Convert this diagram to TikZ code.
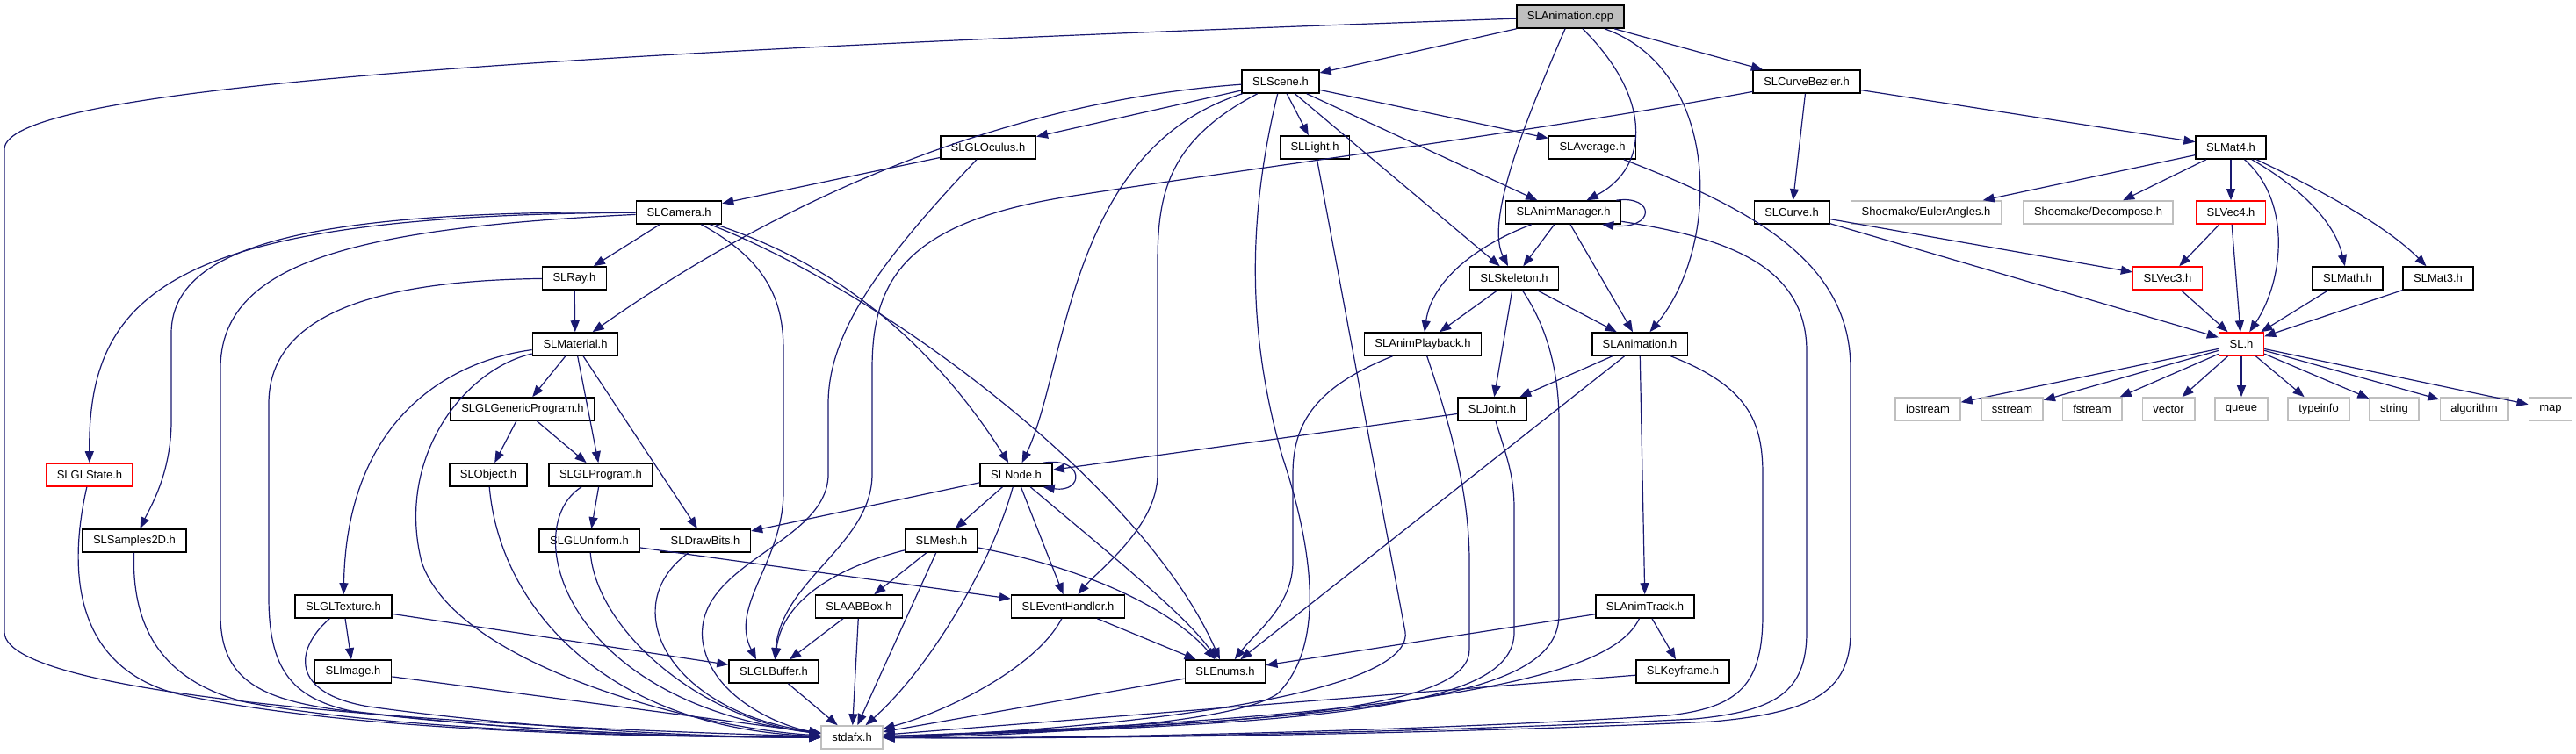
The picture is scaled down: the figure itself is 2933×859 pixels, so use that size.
\documentclass[tikz,border=0pt]{standalone}
\usepackage{fontspec}
\setmainfont{Liberation Sans}
\usetikzlibrary{arrows.meta}
\definecolor{azulnoche}{HTML}{191970}
\definecolor{gris}{HTML}{BFBFBF}

\begin{document}
\begin{tikzpicture}[x=1pt,y=-1pt,
    hdr/.style={draw=black,line width=1.6pt,fill=white,minimum height=26pt,
        inner xsep=12pt,inner ysep=0pt,font=\fontsize{13}{15}\selectfont},
    rojo/.style={hdr,draw=red},
    sis/.style={hdr,draw=gris},
    dep/.style={draw=azulnoche,line width=1.2pt,-{Triangle[length=13pt,width=10pt]}}]
    \useasboundingbox (0,0) rectangle (2933,859);

    % Nodos
    \node[hdr,fill=gris] (cpp) at (1788,19) {SLAnimation.cpp};
    \node[hdr] (scene) at (1458,93) {SLScene.h};
    \node[hdr] (bezier) at (2057,93) {SLCurveBezier.h};
    \node[hdr] (oculus) at (1125,168) {SLGLOculus.h};
    \node[hdr] (light) at (1497,168) {SLLight.h};
    \node[hdr] (average) at (1813,168) {SLAverage.h};
    \node[hdr] (mat4) at (2540,168) {SLMat4.h};
    \node[hdr] (camera) at (773,242) {SLCamera.h};
    \node[hdr] (animmgr) at (1780,242) {SLAnimManager.h};
    \node[hdr] (curve) at (2040,242) {SLCurve.h};
    \node[sis] (euler) at (2193,242) {Shoemake/EulerAngles.h};
    \node[sis] (decomp) at (2389,242) {Shoemake/Decompose.h};
    \node[rojo] (vec4) at (2540,242) {SLVec4.h};
    \node[hdr] (ray) at (654,317) {SLRay.h};
    \node[hdr] (skeleton) at (1724,317) {SLSkeleton.h};
    \node[rojo] (vec3) at (2468,317) {SLVec3.h};
    \node[hdr] (math) at (2673,317) {SLMath.h};
    \node[hdr] (mat3) at (2776,317) {SLMat3.h};
    \node[hdr] (material) at (655,392) {SLMaterial.h};
    \node[hdr] (playback) at (1620,392) {SLAnimPlayback.h};
    \node[hdr] (animation) at (1867,392) {SLAnimation.h};
    \node[rojo] (slh) at (2552,392) {SL.h};
    \node[hdr] (genprog) at (595,466) {SLGLGenericProgram.h};
    \node[hdr] (joint) at (1699,466) {SLJoint.h};
    \node[rojo] (glstate) at (102,541) {SLGLState.h};
    \node[hdr] (object) at (556,541) {SLObject.h};
    \node[hdr] (program) at (684,541) {SLGLProgram.h};
    \node[hdr] (node) at (1157,541) {SLNode.h};
    \node[hdr] (samples) at (153,616) {SLSamples2D.h};
    \node[hdr] (uniform) at (671,616) {SLGLUniform.h};
    \node[hdr] (drawbits) at (803,616) {SLDrawBits.h};
    \node[hdr] (mesh) at (1072,616) {SLMesh.h};
    \node[hdr] (texture) at (391,691) {SLGLTexture.h};
    \node[hdr] (aabb) at (978,691) {SLAABBox.h};
    \node[hdr] (event) at (1216,691) {SLEventHandler.h};
    \node[hdr] (track) at (1873,691) {SLAnimTrack.h};
    \node[hdr] (image) at (402,765) {SLImage.h};
    \node[hdr] (buffer) at (881,765) {SLGLBuffer.h};
    \node[hdr] (enums) at (1395,765) {SLEnums.h};
    \node[hdr] (keyframe) at (1916,765) {SLKeyframe.h};
    \node[sis] (stdafx) at (970,840) {stdafx.h};

    % Cabeceras del sistema
    \foreach \n/\x in {iostream/2195,sstream/2291,fstream/2382,vector/2469,queue/2552,
        typeinfo/2640,string/2726,algorithm/2817,map/2904}
    {
        \node[sis] (\n) at (\x,466) {\n};
        \draw[dep] (slh) -- (\n);
    }

    % Aristas rectas
    \foreach \a/\b in {cpp/scene,cpp/bezier,scene/oculus,scene/light,scene/average,
        scene/animmgr,scene/skeleton,oculus/camera,bezier/curve,bezier/mat4,
        mat4/euler,mat4/decomp,mat4/vec4,curve/vec3,curve/slh,vec4/vec3,vec4/slh,
        vec3/slh,math/slh,mat3/slh,camera/ray,ray/material,animmgr/skeleton,
        animmgr/animation,skeleton/playback,skeleton/animation,skeleton/joint,
        animation/joint,animation/enums,animation/track,material/genprog,
        material/program,material/drawbits,genprog/object,genprog/program,
        program/uniform,joint/node,node/mesh,node/event,node/drawbits,uniform/event,
        mesh/aabb,mesh/stdafx,texture/image,texture/buffer,aabb/buffer,aabb/stdafx,
        event/enums,enums/stdafx,track/enums,track/keyframe,keyframe/stdafx,
        image/stdafx,buffer/stdafx}
        \draw[dep] (\a) -- (\b);

    % Aristas curvas desde arriba
    \draw[dep] (cpp) .. controls (600,60) and (5,100) .. (5,170) -- (5,720)
        .. controls (5,800) and (600,830) .. (stdafx);
    \draw[dep] (cpp) .. controls (1740,130) and (1690,250) .. (skeleton);
    \draw[dep] (cpp) .. controls (1880,110) and (1880,190) .. (animmgr);
    \draw[dep] (cpp) .. controls (1960,80) and (1960,280) .. (animation);
    \draw[dep] (scene) .. controls (1150,115) and (900,220) .. (material);
    \draw[dep] (scene) .. controls (1215,170) and (1215,420) .. (node);
    \draw[dep] (scene) .. controls (1330,160) and (1318,220) .. (1318,300) -- (1318,540)
        .. controls (1318,600) and (1250,650) .. (event);
    \draw[dep] (scene) .. controls (1420,250) and (1420,380) .. (1460,520)
        .. controls (1500,640) and (1505,740) .. (1455,790)
        .. controls (1400,830) and (1100,840) .. (stdafx);
    \draw[dep] (light) -- (1600,720) .. controls (1610,800) and (1200,835) .. (stdafx);
    \draw[dep] (average) .. controls (2000,240) and (2107,300) .. (2107,420) -- (2107,720)
        .. controls (2107,790) and (2060,812) .. (1950,822)
        .. controls (1600,838) and (1200,842) .. (stdafx);
    \draw[dep] (animmgr) .. controls (1960,270) and (2057,300) .. (2057,400) -- (2057,720)
        .. controls (2057,790) and (2020,810) .. (1930,819)
        .. controls (1600,836) and (1200,842) .. (stdafx);
    \draw[dep] ([xshift=-6pt]animmgr.north east) .. controls (1885,222) and (1885,262)
        .. ([xshift=-22pt]animmgr.south east);
    \draw[dep] (animmgr) .. controls (1680,280) and (1630,320) .. (playback);
    \draw[dep] (animation) .. controls (1990,440) and (2007,480) .. (2007,540) -- (2007,700)
        .. controls (2007,780) and (1980,806) .. (1900,815)
        .. controls (1600,834) and (1200,842) .. (stdafx);
    \draw[dep] (skeleton) .. controls (1760,370) and (1775,420) .. (1775,480) -- (1775,700)
        .. controls (1775,790) and (1600,820) .. (stdafx);
    \draw[dep] (playback) .. controls (1500,440) and (1472,480) .. (1472,540) -- (1472,640)
        .. controls (1472,690) and (1430,720) .. (enums);
    \draw[dep] (playback) .. controls (1650,480) and (1673,560) .. (1673,640) -- (1673,740)
        .. controls (1673,800) and (1500,825) .. (stdafx);
    \draw[dep] (joint) .. controls (1715,520) and (1724,540) .. (1724,580) -- (1724,720)
        .. controls (1724,800) and (1550,825) .. (stdafx);
    \draw[dep] (track) .. controls (1840,760) and (1700,815) .. (stdafx);
    \draw[dep] (bezier) .. controls (1750,150) and (1400,195) .. (1210,225)
        .. controls (1030,255) and (993,320) .. (993,420) -- (993,540)
        .. controls (993,620) and (890,660) .. (buffer);
    \draw[dep] (mat4) .. controls (2610,230) and (2600,320) .. (slh);
    \draw[dep] (mat4) .. controls (2630,220) and (2660,260) .. (math);
    \draw[dep] (mat4) .. controls (2650,220) and (2720,260) .. (mat3);

    % Aristas curvas del lado izquierdo
    \draw[dep] (oculus) .. controls (1000,300) and (943,380) .. (943,460) -- (943,540)
        .. controls (943,620) and (790,640) .. (800,730) .. controls (810,800) and (900,830) .. (stdafx);
    \draw[dep] (camera) .. controls (980,310) and (1080,420) .. (node);
    \draw[dep] (camera) .. controls (1000,330) and (1300,550) .. (enums);
    \draw[dep] (camera) .. controls (880,300) and (892,350) .. (892,400) -- (892,560)
        .. controls (892,640) and (830,690) .. ([xshift=-20pt]buffer.north);
    \draw[dep] (camera) .. controls (400,260) and (251,300) .. (251,420) -- (251,700)
        .. controls (251,770) and (290,795) .. (380,808)
        .. controls (550,830) and (750,840) .. (stdafx);
    \draw[dep] (camera) .. controls (200,245) and (100,330) .. (glstate);
    \draw[dep] (camera) .. controls (350,240) and (195,280) .. (195,380) -- (195,480)
        .. controls (195,540) and (170,580) .. (samples);
    \draw[dep] (ray) .. controls (400,320) and (306,370) .. (306,460) -- (306,680)
        .. controls (306,760) and (330,795) .. (400,810)
        .. controls (560,830) and (750,840) .. (stdafx);
    \draw[dep] (material) .. controls (520,410) and (395,470) .. (texture);
    \draw[dep] (material) .. controls (530,420) and (450,520) .. (480,640)
        .. controls (520,760) and (800,830) .. (stdafx);
    \draw[dep] (object) .. controls (570,700) and (700,830) .. (stdafx);
    \draw[dep] (program) .. controls (590,600) and (640,800) .. (stdafx);
    \draw[dep] (uniform) .. controls (680,720) and (800,820) .. (stdafx);
    \draw[dep] (drawbits) .. controls (700,690) and (760,810) .. (stdafx);
    \draw[dep] (glstate) .. controls (75,660) and (90,760) .. (200,790)
        .. controls (400,835) and (750,840) .. (stdafx);
    \draw[dep] (samples) .. controls (150,710) and (180,775) .. (280,800)
        .. controls (450,832) and (750,840) .. (stdafx);
    \draw[dep] (texture) .. controls (335,740) and (330,790) .. (420,805)
        .. controls (600,830) and (800,840) .. (stdafx);

    % Aristas curvas del centro
    \draw[dep] ([xshift=-11pt]node.north east) .. controls (1235,520) and (1235,562)
        .. ([xshift=-11pt]node.south east);
    \draw[dep] (node) .. controls (1250,620) and (1350,700) .. (enums);
    \draw[dep] (node) .. controls (1130,640) and (1060,760) .. (stdafx);
    \draw[dep] (mesh) .. controls (940,650) and (890,690) .. (buffer);
    \draw[dep] (mesh) .. controls (1250,650) and (1340,700) .. (enums);
    \draw[dep] (event) .. controls (1180,760) and (1080,810) .. (stdafx);
\end{tikzpicture}
\end{document}
